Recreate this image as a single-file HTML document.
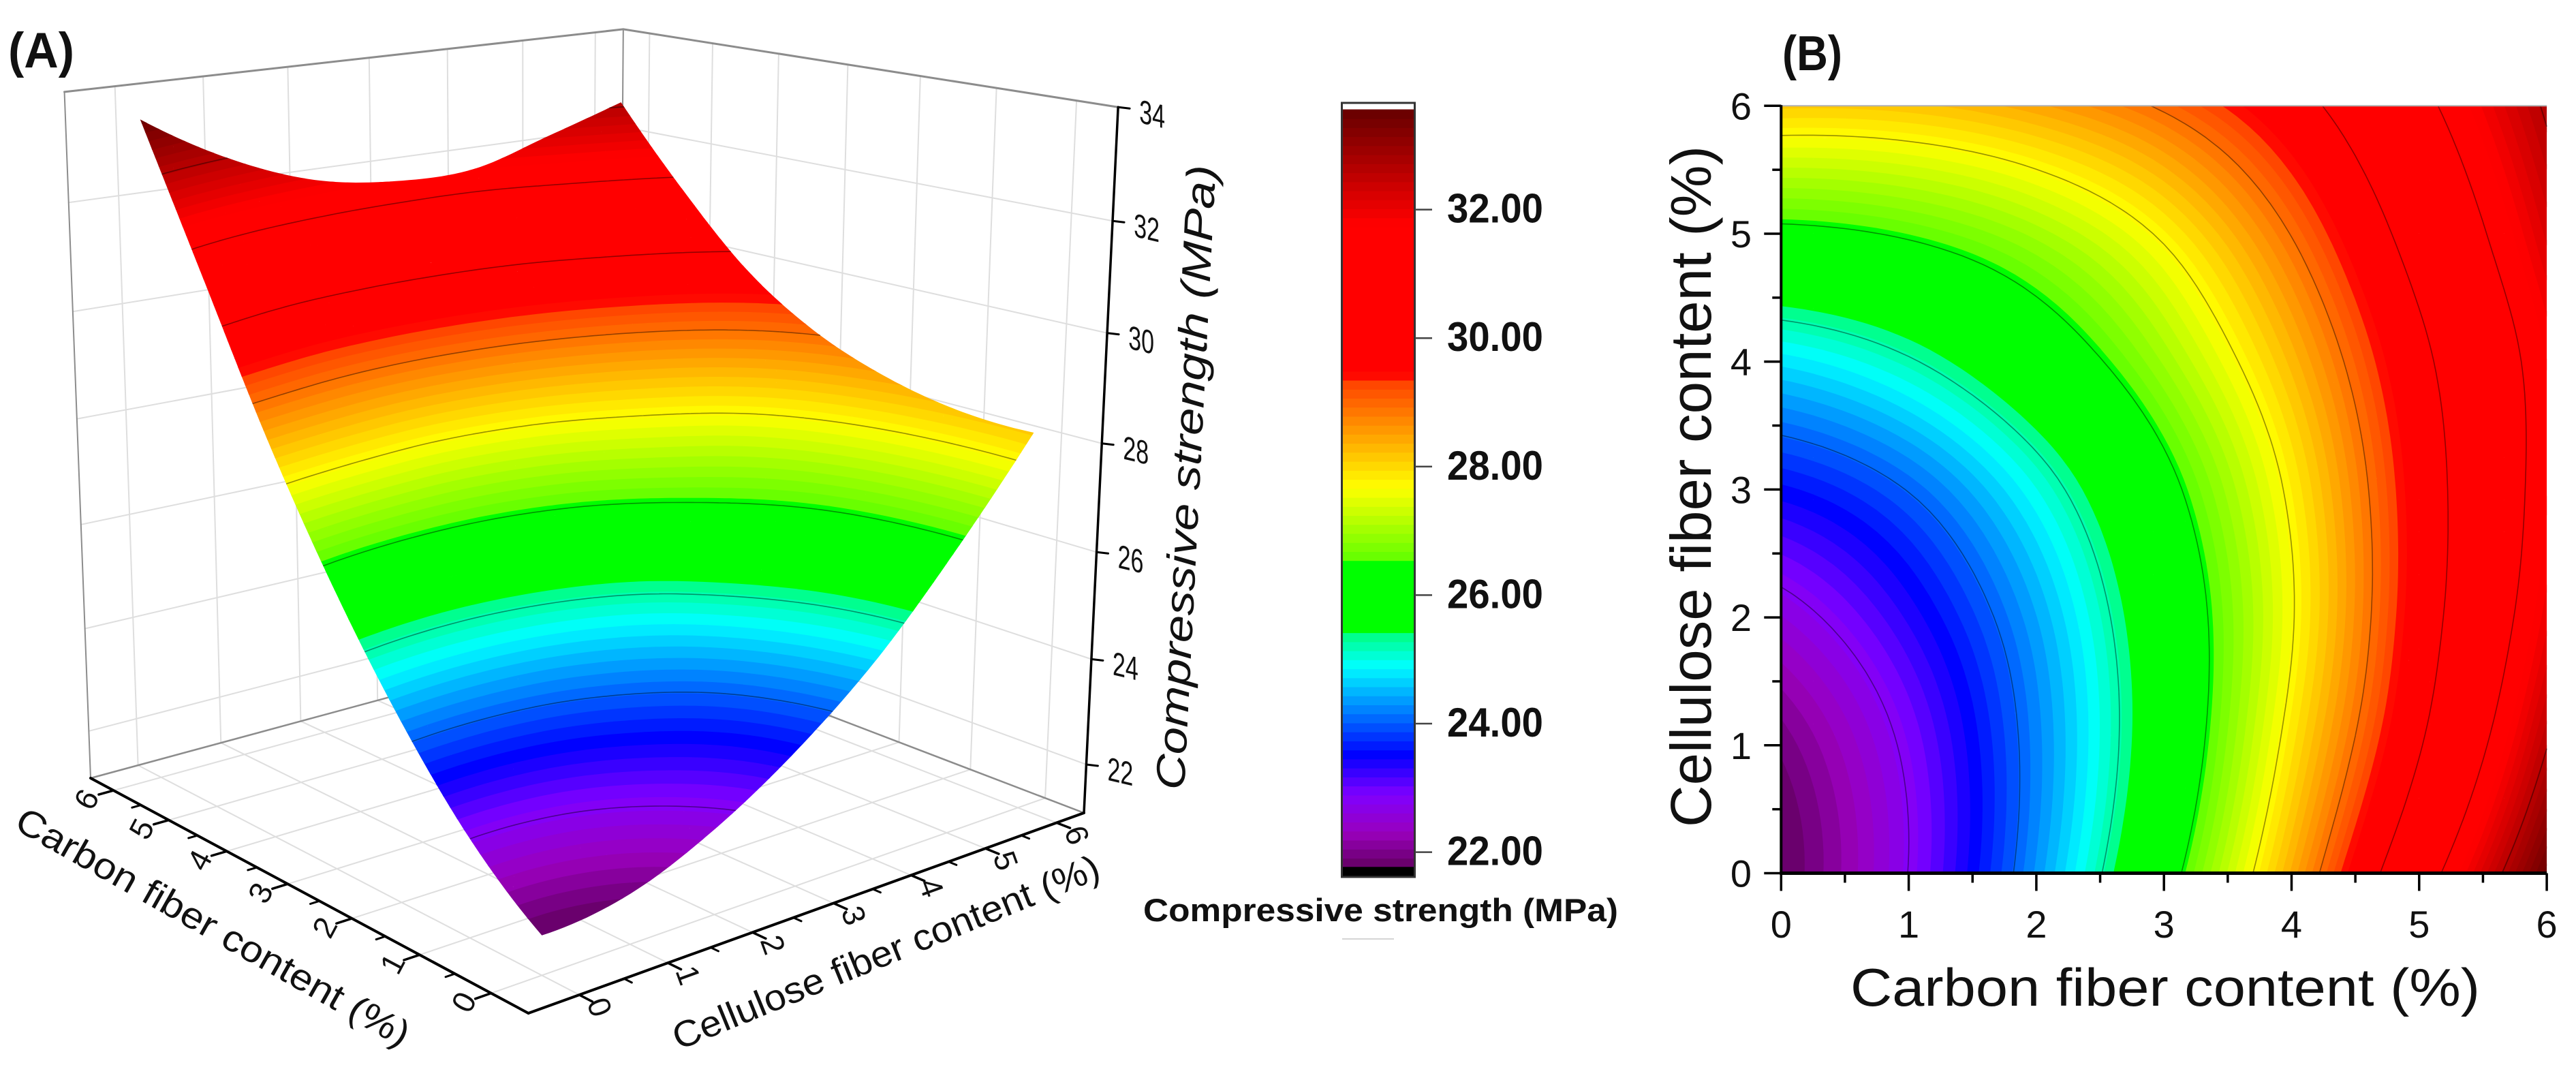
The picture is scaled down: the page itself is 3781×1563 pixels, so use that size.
<!DOCTYPE html>
<html lang="en">
<head>
<meta charset="utf-8">
<title>Compressive strength response surface and contour</title>
<style>
html,body{margin:0;padding:0;background:#fff;width:3781px;height:1563px;overflow:hidden}
svg{display:block}
text{font-family:"Liberation Sans",sans-serif;fill:#111}
</style>
</head>
<body>
<svg id="figure" xmlns="http://www.w3.org/2000/svg" width="3781" height="1563" viewBox="0 0 3781 1563">
  <rect x="0" y="0" width="3781" height="1563" fill="#fff"/>
  <g id="panelA"></g>
  <g id="colorbar"></g>
  <g id="panelB"></g>
  <text x="12" y="99" font-size="73" font-weight="bold" textLength="97" lengthAdjust="spacingAndGlyphs">(A)</text>
  <text x="2616" y="103" font-size="72" font-weight="bold" textLength="88" lengthAdjust="spacingAndGlyphs">(B)</text>
  <text transform="translate(1738,1160) rotate(-87.1)" font-size="60" font-style="italic" textLength="918" lengthAdjust="spacingAndGlyphs">Compressive strength (MPa)</text>
  <text transform="translate(313,1360) rotate(29.5)" y="19" font-size="54" text-anchor="middle" textLength="655" lengthAdjust="spacingAndGlyphs">Carbon fiber content (%)</text>
  <text transform="translate(1300,1397) rotate(-22.2)" y="19" font-size="54" text-anchor="middle" textLength="672" lengthAdjust="spacingAndGlyphs">Cellulose fiber content (%)</text>
  <text x="1678" y="1352" font-size="47" font-weight="bold" textLength="697" lengthAdjust="spacingAndGlyphs">Compressive strength (MPa)</text>
  <rect x="1970" y="1377" width="76" height="2" fill="#d5d5d5"/>
  <text x="2716" y="1476" font-size="78" textLength="924" lengthAdjust="spacingAndGlyphs">Carbon fiber content (%)</text>
  <text transform="translate(2511,1214) rotate(-90)" font-size="84" textLength="1000" lengthAdjust="spacingAndGlyphs">Cellulose fiber content (%)</text>
</svg>
<script>
// ---- chart data ----
const carbonValues = [0, 1, 2, 3, 4, 5, 6];
const celluloseValues = [0, 1, 2, 3, 4, 5, 6];
// rows: cellulose 0..6, columns: carbon 0..6, values: compressive strength (MPa)
const strengthRow0 = [21.75, 22.81, 24.33, 26.20, 28.40, 30.94, 33.50];
const strengthRow1 = [21.95, 22.90, 24.23, 25.87, 27.90, 30.09, 32.58];
const strengthRow2 = [22.60, 23.35, 24.43, 25.91, 27.66, 29.74, 31.97];
const strengthRow3 = [23.55, 24.05, 24.99, 26.28, 27.81, 29.71, 31.73];
const strengthRow4 = [24.77, 25.20, 25.98, 26.99, 28.28, 29.95, 31.75];
const strengthRow5 = [26.35, 26.55, 27.02, 27.78, 28.95, 30.50, 32.20];
const strengthRow6 = [28.13, 28.18, 28.47, 29.00, 29.87, 31.17, 32.68];
const strengthGrid = [strengthRow0, strengthRow1, strengthRow2, strengthRow3, strengthRow4, strengthRow5, strengthRow6];
const contourLevels = [22.8, 24.03, 25.25, 26.48, 27.7, 28.93, 30.15, 31.38, 32.6];
const colormapValues = [21.8, 22.3, 22.9, 23.52, 24.9, 25.41, 25.41, 26.59, 26.59, 27.68, 29.34, 29.34, 29.56, 31.78, 33.56];
const colormapColors = ['#660066', '#9900bb', '#8000ff', '#0000ff', '#00ffff', '#00ff80', '#00ff00', '#00ff00', '#66ff00', '#ffff00', '#ff4000', '#ff1000', '#ff0000', '#ff0000', '#660000'];
const colorbarTicks = [22, 24, 26, 28, 30, 32];
const colorbarTickLabels = ['22.00', '24.00', '26.00', '28.00', '30.00', '32.00'];
const zTicks = [22, 24, 26, 28, 30, 32, 34];
const zTickLabels = ['22', '24', '26', '28', '30', '32', '34'];
const carbonTickLabels = ['0', '1', '2', '3', '4', '5', '6'];
const celluloseTickLabels = ['0', '1', '2', '3', '4', '5', '6'];

// ---- helpers ----
const SVGNS = 'http://www.w3.org/2000/svg';
function addEl(parent, tag, attrs, txt) {
  const el = document.createElementNS(SVGNS, tag);
  for (const k in attrs) el.setAttribute(k, attrs[k]);
  if (txt !== undefined) el.textContent = txt;
  parent.appendChild(el);
  return el;
}
function hexRgb(h) { return [parseInt(h.slice(1, 3), 16), parseInt(h.slice(3, 5), 16), parseInt(h.slice(5, 7), 16)]; }
function colorAt(z) {
  if (z <= colormapValues[0]) return colormapColors[0];
  const last = colormapValues.length - 1;
  if (z >= colormapValues[last]) return colormapColors[last];
  for (let i = 0; i < last; i++) {
    const a = colormapValues[i], b = colormapValues[i + 1];
    if (z >= a && z <= b && b > a) {
      const t = (z - a) / (b - a), p = hexRgb(colormapColors[i]), q = hexRgb(colormapColors[i + 1]);
      return 'rgb(' + p.map((v, k) => Math.round(v + (q[k] - v) * t)).join(',') + ')';
    }
  }
  return colormapColors[last];
}
function catmull(p0, p1, p2, p3, t) {
  return 0.5 * (2 * p1 + (p2 - p0) * t + (2 * p0 - 5 * p1 + 4 * p2 - p3) * t * t + (3 * p1 - p0 - 3 * p2 + p3) * t * t * t);
}
function at1d(arr, x) {
  const n = arr.length;
  let i = Math.min(n - 2, Math.max(0, Math.floor(x)));
  const g = k => k < 0 ? 3 * arr[0] - 3 * arr[1] + arr[2] : k >= n ? 3 * arr[n - 1] - 3 * arr[n - 2] + arr[n - 3] : arr[k];
  return catmull(g(i - 1), g(i), g(i + 1), g(i + 2), x - i);
}
function sampleStrength(c, s) {
  const cx = (c - carbonValues[0]) / (carbonValues[1] - carbonValues[0]);
  const sx = (s - celluloseValues[0]) / (celluloseValues[1] - celluloseValues[0]);
  return at1d(strengthGrid.map(row => at1d(row, cx)), sx);
}

// ---- colour band scale ----
const bandMin = 21.77, bandMax = 33.56, bandCount = 84, bandStep = (bandMax - bandMin) / bandCount;

// ---- axis functions: panel B ----
const bLeft = 2614.3, bBottom = 1281.5, bPxC = 187.3, bPxS = 187.7;
function panelBX(c) { return bLeft + c * bPxC; }
function panelBY(s) { return bBottom - s * bPxS; }

// ---- axis functions: panel A (perspective box) ----
const boxF = [775.5, 1487], boxL = [133, 1142], boxB = [908, 932], boxR = [1591, 1193];
const cLow = -0.5, cHigh = 6.43, sLow = -0.555, sHigh = 6.395, zFloor = 21.07, zTop = 34;
const horizonY = -650, heightRatio = 0.562, vpX = 777, vpY = 18005;
const H = (function () {
  const [x0, y0] = boxF, [x1, y1] = boxL, [x2, y2] = boxB, [x3, y3] = boxR;
  const dx1 = x1 - x2, dx2 = x3 - x2, sx = x0 - x1 + x2 - x3, dy1 = y1 - y2, dy2 = y3 - y2, sy = y0 - y1 + y2 - y3;
  const det = dx1 * dy2 - dx2 * dy1, g = (sx * dy2 - dx2 * sy) / det, h = (dx1 * sy - sx * dy1) / det;
  return { a: x1 - x0 + g * x1, b: x3 - x0 + h * x3, c: x0, d: y1 - y0 + g * y1, e: y3 - y0 + h * y3, f: y0, g: g, h: h };
})();
function floorPoint(c, s) {
  const u = (c - cLow) / (cHigh - cLow), v = (s - sLow) / (sHigh - sLow), w = H.g * u + H.h * v + 1;
  return [(H.a * u + H.b * v + H.c) / w, (H.d * u + H.e * v + H.f) / w];
}
function zFraction(z) { const l = (z - zFloor) / (zTop - zFloor); return l - 0.05 * l * (1 - l); }
function project3d(c, s, z) {
  const p = floorPoint(c, s), dy = heightRatio * (p[1] - horizonY) * zFraction(z);
  return [p[0] + dy * (p[0] - vpX) / (vpY - p[1]), p[1] - dy];
}
function pts(p) { return p[0].toFixed(1) + ' ' + p[1].toFixed(1); }

// ---- surface renderer shared by both panels ----
const fineN = 72;
const fineZ = [];
for (let j = 0; j <= fineN; j++) {
  const row = [];
  for (let i = 0; i <= fineN; i++) row.push(sampleStrength(carbonValues[0] + (carbonValues[carbonValues.length - 1] - carbonValues[0]) * i / fineN, celluloseValues[0] + (celluloseValues[celluloseValues.length - 1] - celluloseValues[0]) * j / fineN));
  fineZ.push(row);
}
function clipZ(poly, t, keepAbove) {
  const out = [];
  for (let i = 0; i < poly.length; i++) {
    const a = poly[i], b = poly[(i + 1) % poly.length];
    const ia = keepAbove ? a.z >= t : a.z <= t, ib = keepAbove ? b.z >= t : b.z <= t;
    if (ia) out.push(a);
    if (ia !== ib) {
      const k = (t - a.z) / (b.z - a.z);
      out.push({ c: a.c + (b.c - a.c) * k, s: a.s + (b.s - a.s) * k, z: t });
    }
  }
  return out;
}
function renderSurface(group, projector) {
  const bandD = [], levelD = contourLevels.map(() => []);
  for (let i = 0; i < bandCount; i++) bandD.push([]);
  const cSpan = carbonValues[carbonValues.length - 1] - carbonValues[0], sSpan = celluloseValues[celluloseValues.length - 1] - celluloseValues[0];
  for (let j = 0; j < fineN; j++) for (let i = 0; i < fineN; i++) {
    const c0 = carbonValues[0] + cSpan * i / fineN, c1 = carbonValues[0] + cSpan * (i + 1) / fineN;
    const s0 = celluloseValues[0] + sSpan * j / fineN, s1 = celluloseValues[0] + sSpan * (j + 1) / fineN;
    const quad = [{ c: c0, s: s0, z: fineZ[j][i] }, { c: c1, s: s0, z: fineZ[j][i + 1] }, { c: c1, s: s1, z: fineZ[j + 1][i + 1] }, { c: c0, s: s1, z: fineZ[j + 1][i] }];
    const zs = quad.map(q => q.z), zlo = Math.min.apply(null, zs), zhi = Math.max.apply(null, zs);
    const iLo = Math.max(0, Math.min(bandCount - 1, Math.floor((zlo - bandMin) / bandStep)));
    const iHi = Math.max(0, Math.min(bandCount - 1, Math.floor((zhi - bandMin) / bandStep)));
    for (let b = iLo; b <= iHi; b++) {
      let poly = quad;
      if (b > 0) poly = clipZ(poly, bandMin + b * bandStep, true);
      if (b < bandCount - 1 && poly.length) poly = clipZ(poly, bandMin + (b + 1) * bandStep + 0.02, false);
      if (poly.length > 2) bandD[b].push('M' + poly.map(v => pts(projector(v.c, v.s, v.z))).join('L') + 'Z');
    }
    contourLevels.forEach((lv, k) => {
      if (lv < zlo || lv > zhi) return;
      const cross = [];
      for (let e = 0; e < 4; e++) {
        const a = quad[e], b = quad[(e + 1) % 4];
        if ((a.z < lv) !== (b.z < lv)) {
          const t = (lv - a.z) / (b.z - a.z);
          cross.push(projector(a.c + (b.c - a.c) * t, a.s + (b.s - a.s) * t, lv));
        }
      }
      if (cross.length >= 2) levelD[k].push('M' + pts(cross[0]) + 'L' + pts(cross[1]));
      if (cross.length === 4) levelD[k].push('M' + pts(cross[2]) + 'L' + pts(cross[3]));
    });
  }
  bandD.forEach((d, b) => {
    if (!d.length) return;
    const band = addEl(group, 'path', { d: d.join(''), fill: colorAt(bandMin + (b + 0.5) * bandStep) });
    
    
  });
  levelD.forEach(d => {
    if (!d.length) return;
    const line = addEl(group, 'path', { d: d.join(''), fill: 'none', stroke: '#000', 'stroke-opacity': 0.42, 'stroke-width': 1.6 });
    
    
  });
}

// ---- panel A ----
const gA = document.getElementById('panelA');
function line3(p, q, stroke, width, name) {
  const el = addEl(gA, 'line', { x1: p[0], y1: p[1], x2: q[0], y2: q[1], stroke: stroke, 'stroke-width': width, 'stroke-linecap': 'round' });
  
  
  return el;
}
const gridColor = '#dedede';
// floor grid
carbonValues.forEach(c => { line3(project3d(c, sLow, zFloor), project3d(c, sHigh, zFloor), gridColor, 2, 'floor-gridline'); });
celluloseValues.forEach(s => { line3(project3d(cLow, s, zFloor), project3d(cHigh, s, zFloor), gridColor, 2, 'floor-gridline'); });
// wall grids
celluloseValues.forEach(s => { line3(project3d(cHigh, s, zFloor), project3d(cHigh, s, zTop), gridColor, 2, 'wall-gridline'); });
carbonValues.forEach(c => { line3(project3d(c, sHigh, zFloor), project3d(c, sHigh, zTop), gridColor, 2, 'wall-gridline'); });
zTicks.forEach(z => {
  if (z === zTop) return;
  line3(project3d(cHigh, sLow, z), project3d(cHigh, sHigh, z), gridColor, 2, 'wall-gridline');
  line3(project3d(cHigh, sHigh, z), project3d(cLow, sHigh, z), gridColor, 2, 'wall-gridline');
});
// box edges
const boxGray = '#8c8c8c';
line3(project3d(cHigh, sLow, zFloor), project3d(cHigh, sHigh, zFloor), boxGray, 2.5, 'box-edge');
line3(project3d(cHigh, sHigh, zFloor), project3d(cLow, sHigh, zFloor), boxGray, 2.5, 'box-edge');
line3(project3d(cHigh, sLow, zFloor), project3d(cHigh, sLow, zTop), boxGray, 2, 'box-edge');
line3(project3d(cHigh, sHigh, zFloor), project3d(cHigh, sHigh, zTop), boxGray, 2, 'box-edge');
line3(project3d(cHigh, sLow, zTop), project3d(cHigh, sHigh, zTop), boxGray, 3, 'box-edge');
line3(project3d(cHigh, sHigh, zTop), project3d(cLow, sHigh, zTop), boxGray, 3, 'box-edge');
// surface
const surfaceGroup = addEl(gA, 'g', {});


renderSurface(surfaceGroup, project3d);
// axes
line3(floorPoint(cLow, sLow), floorPoint(cHigh, sLow), '#000', 4, 'carbon-axis');
line3(floorPoint(cLow, sLow), floorPoint(cLow, sHigh), '#000', 4, 'cellulose-axis');
line3(project3d(cLow, sHigh, zFloor), project3d(cLow, sHigh, zTop), '#000', 3.5, 'strength-axis');
carbonValues.forEach((c, i) => {
  const p = floorPoint(c, sLow);
  line3(p, floorPoint(c, sLow - 0.17), '#000', 3.5, 'carbon-tick');
  if (i < carbonValues.length - 1) {
    const m = (c + carbonValues[i + 1]) / 2;
    line3(floorPoint(m, sLow), floorPoint(m, sLow - 0.1), '#000', 3, 'carbon-minor-tick');
  }
  const lab = addEl(gA, 'text', { transform: 'translate(' + (p[0] - 40).toFixed(1) + ',' + (p[1] + 13).toFixed(1) + ') rotate(-62)', y: 16, 'font-size': 46, 'text-anchor': 'middle', fill: '#222' }, carbonTickLabels[i]);
  
  
});
celluloseValues.forEach((s, i) => {
  const p = floorPoint(cLow, s);
  line3(p, floorPoint(cLow - 0.17, s), '#000', 3.5, 'cellulose-tick');
  if (i < celluloseValues.length - 1) {
    const m = (s + celluloseValues[i + 1]) / 2;
    line3(floorPoint(cLow, m), floorPoint(cLow - 0.1, m), '#000', 3, 'cellulose-minor-tick');
  }
  const lab = addEl(gA, 'text', { transform: 'translate(' + (p[0] + 30).toFixed(1) + ',' + (p[1] + 18).toFixed(1) + ') rotate(70)', y: 16, 'font-size': 46, 'text-anchor': 'middle', fill: '#222' }, celluloseTickLabels[i]);
  
  
});
zTicks.forEach((z, i) => {
  const p = project3d(cLow, sHigh, z);
  line3(p, [p[0] + 17, p[1] + 2], '#000', 3, 'strength-tick');
  const lab = addEl(gA, 'text', { transform: 'translate(' + (p[0] + 50).toFixed(1) + ',' + (p[1] + 10).toFixed(1) + ') skewY(13) scale(0.85,1.22)', y: 14, 'font-size': 40, 'text-anchor': 'middle', fill: '#222' }, zTickLabels[i]);
  
  
});

// ---- colour bar ----
const gC = document.getElementById('colorbar');
function cbarY(z) { return 1062 - (z - 24) * 94.3; }
const cbLeft = 1970, cbRight = 2076;
for (let b = 0; b < bandCount; b++) {
  const lo = bandMin + b * bandStep, hi = lo + bandStep;
  const r = addEl(gC, 'rect', { x: cbLeft, y: cbarY(hi).toFixed(1), width: cbRight - cbLeft, height: (cbarY(lo) - cbarY(hi) + 1).toFixed(1), fill: colorAt(lo + bandStep / 2) });
  
  
}
const cbCap = addEl(gC, 'rect', { x: cbLeft, y: cbarY(bandMin), width: cbRight - cbLeft, height: 1287 - cbarY(bandMin), fill: '#000' });


const cbFrame = addEl(gC, 'rect', { x: cbLeft - 0.5, y: 151, width: cbRight - cbLeft + 1, height: 1136, fill: 'none', stroke: '#333', 'stroke-width': 3 });


colorbarTicks.forEach((z, i) => {
  const y = cbarY(z);
  const t = addEl(gC, 'line', { x1: cbRight + 1, y1: y, x2: 2102, y2: y, stroke: '#444', 'stroke-width': 2.5 });
  
  
  const lab = addEl(gC, 'text', { x: 2124, y: y + 19, 'font-size': 60, 'font-weight': 'bold', textLength: 141, lengthAdjust: 'spacingAndGlyphs' }, colorbarTickLabels[i]);
  
  
});

// ---- panel B ----
const gB = document.getElementById('panelB');
const heatGroup = addEl(gB, 'g', {});


renderSurface(heatGroup, (c, s) => [panelBX(c), panelBY(s)]);
const xEnd = carbonValues[carbonValues.length - 1], yEnd = celluloseValues[celluloseValues.length - 1];
function lineB(x1, y1, x2, y2, stroke, width, name) {
  const el = addEl(gB, 'line', { x1: x1, y1: y1, x2: x2, y2: y2, stroke: stroke, 'stroke-width': width });
  
  
  return el;
}
lineB(panelBX(0), panelBY(yEnd), panelBX(xEnd), panelBY(yEnd), '#b0b0b0', 2, 'top-border');
lineB(panelBX(0), panelBY(yEnd) - 1, panelBX(0), panelBY(0) + 2, '#000', 4, 'y-axis');
lineB(panelBX(0) - 2, panelBY(0), panelBX(xEnd), panelBY(0), '#000', 5, 'x-axis');
carbonValues.forEach((c, i) => {
  const x = panelBX(c);
  lineB(x, panelBY(0), x, panelBY(0) + 26, '#000', 3.5, 'x-tick');
  if (i < carbonValues.length - 1) {
    const mx = panelBX((c + carbonValues[i + 1]) / 2);
    lineB(mx, panelBY(0), mx, panelBY(0) + 14, '#000', 3.5, 'x-minor-tick');
  }
  const lab = addEl(gB, 'text', { x: x, y: 1376, 'font-size': 56, 'text-anchor': 'middle', fill: '#222' }, carbonTickLabels[i]);
  
  
});
celluloseValues.forEach((s, i) => {
  const y = panelBY(s);
  lineB(panelBX(0) - 25, y, panelBX(0), y, '#000', 3.5, 'y-tick');
  if (i < celluloseValues.length - 1) {
    const my = panelBY((s + celluloseValues[i + 1]) / 2);
    lineB(panelBX(0) - 13, my, panelBX(0), my, '#000', 3.5, 'y-minor-tick');
  }
  const lab = addEl(gB, 'text', { x: 2571, y: y + 20, 'font-size': 56, 'text-anchor': 'end', fill: '#222' }, celluloseTickLabels[i]);
  
  
});
</script>
</body>
</html>
